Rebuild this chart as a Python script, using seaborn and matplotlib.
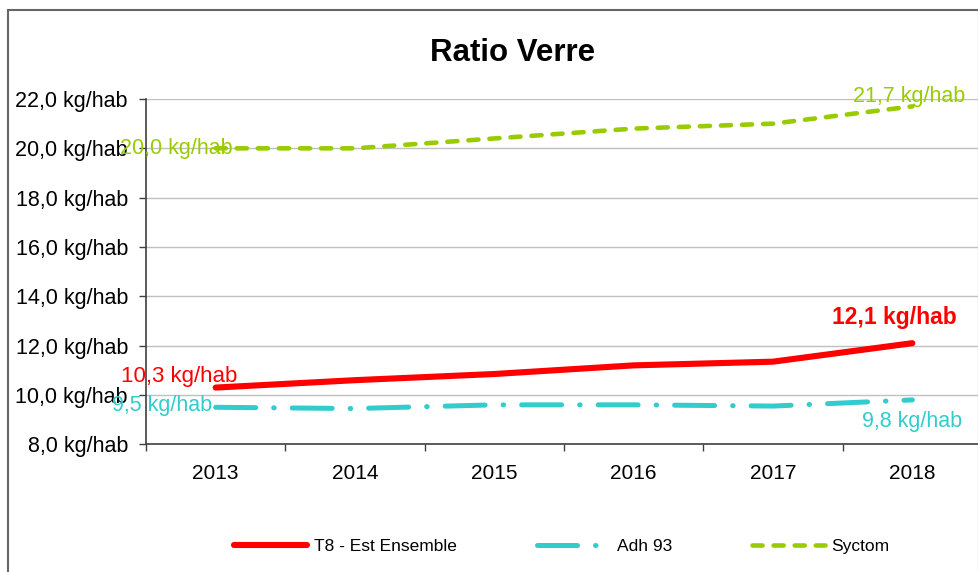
import seaborn as sns
import pandas as pd
import matplotlib.pyplot as plt
from matplotlib.lines import Line2D
from matplotlib.patches import Rectangle

# data
years = [2013, 2014, 2015, 2016, 2017, 2018]
t8 = [10.3, 10.6, 10.85, 11.2, 11.35, 12.1]
adh93 = [9.5, 9.45, 9.6, 9.6, 9.55, 9.8]
syctom = [20.0, 20.0, 20.4, 20.8, 21.0, 21.7]
series_names = ["T8 - Est Ensemble", "Adh 93", "Syctom"]
colors = ["#ff0000", "#33cccc", "#99cc00"]
y_ticks = [8, 10, 12, 14, 16, 18, 20, 22]

df = pd.DataFrame({
    "year": years * 3,
    "value": t8 + adh93 + syctom,
    "serie": [s for s in series_names for _ in years],
})

sns.set_style("white")
plt.rcParams["font.family"] = ["Liberation Sans", "DejaVu Sans"]
plt.rcParams["text.color"] = "black"
plt.rcParams["xtick.color"] = "black"
plt.rcParams["ytick.color"] = "black"

fig = plt.figure(figsize=(9.79, 5.72), dpi=100)
ax = fig.add_axes([146 / 979, 1 - 444.3 / 572, 836 / 979, 345.3 / 572])

dash_map = {
    "T8 - Est Ensemble": "",
    "Adh 93": (8, 3.6, 0.1, 3.6),
    "Syctom": (2.2, 2.4),
}
sns.lineplot(data=df, x="year", y="value", hue="serie", style="serie",
             palette=dict(zip(series_names, colors)), dashes=dash_map,
             hue_order=series_names, style_order=series_names,
             legend=False, ax=ax)

widths = {"T8 - Est Ensemble": 4.4, "Adh 93": 3.6, "Syctom": 3.3}
for line, name in zip(ax.lines, series_names):
    line.set_linewidth(widths[name])
    line.set_dash_capstyle("round")
    line.set_solid_capstyle("round")

ax.set_xlim(years[0] - 0.5, years[-1] + 0.5)
ax.set_ylim(8, 22)
ax.set_yticks(y_ticks)
ax.set_yticklabels([f"{v:.1f}".replace(".", ",") + " kg/hab" for v in y_ticks])
ax.set_xticks(years)
ax.set_xticks([y - 0.5 for y in years] + [years[-1] + 0.5], minor=True)
ax.set_xlabel("")
ax.set_ylabel("")

ax.yaxis.grid(True, color="#c0c0c0", lw=1)
ax.set_axisbelow(True)
for side in ["top", "right"]:
    ax.spines[side].set_visible(False)
for side in ["left", "bottom"]:
    ax.spines[side].set_color("#404040")
    ax.spines[side].set_linewidth(1.2)

ax.tick_params(axis="y", which="major", left=True, length=5, width=1,
               color="#404040", labelcolor="black", pad=8, labelsize=15.5)
ax.tick_params(axis="x", which="major", bottom=False, length=0, pad=14,
               labelcolor="black", labelsize=15)
ax.tick_params(axis="x", which="minor", bottom=True, length=5, width=1,
               color="#404040")

# data labels
labels = [
    (years[0], syctom[0], "20,0 kg/hab", colors[2], "normal", 17, 0, "right", 15.5),
    (years[-1], syctom[-1], "21,7 kg/hab", colors[2], "normal", -3, 10, "center", 15.5),
    (years[0], t8[0], "10,3 kg/hab", colors[0], "normal", -36, 11, "center", 16),
    (years[-1], t8[-1], "12,1 kg/hab", colors[0], "bold", -18, 26, "center", 16.5),
    (years[0], adh93[0], "9,5 kg/hab", colors[1], "normal", -4, 2, "right", 15.5),
    (years[-1], adh93[-1], "9,8 kg/hab", colors[1], "normal", 0, -22, "center", 15.5),
]
for x, y, txt, c, w, dx, dy, ha, fs in labels:
    ax.annotate(txt, (x, y), xytext=(dx, dy), textcoords="offset pixels",
                ha=ha, va="center", color=c, fontsize=fs, fontweight=w,
                annotation_clip=False)

fig.text(513 / 979, 1 - 53 / 572, "Ratio Verre", ha="center", va="center",
         fontsize=22.5, fontweight="bold", color="black")

handles = [
    Line2D([0], [0], color=colors[0], lw=4.4, solid_capstyle="round"),
    Line2D([0], [0], color=colors[1], lw=3.6, dashes=(8, 3.6, 0.1, 3.6),
           dash_capstyle="round"),
    Line2D([0], [0], color=colors[2], lw=3.3, dashes=(2.2, 2.4),
           dash_capstyle="round"),
]
fig.legend(handles, series_names, loc="center", bbox_to_anchor=(0.574, 0.045),
           ncol=3, frameon=False, fontsize=12.5, handlelength=4.2,
           handletextpad=0.4, columnspacing=4.6)

fig.patches.append(Rectangle((8 / 979, -0.1), 971 / 979, 1.1 - 10 / 572,
                             transform=fig.transFigure, fill=False,
                             edgecolor="#666666", lw=1.5))

fig.savefig("out.png", dpi=100)
